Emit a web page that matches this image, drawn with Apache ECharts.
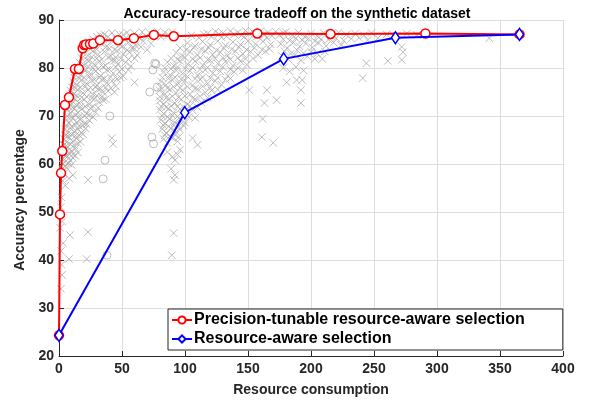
<!DOCTYPE html>
<html>
<head>
<meta charset="utf-8">
<script src="https://cdn.jsdelivr.net/npm/echarts@6/dist/echarts.min.js"></script>
<style>
  html, body { margin: 0; padding: 0; background: #fff; }
  #chart { width: 594px; height: 405px; }
</style>
</head>
<body>
<div id="chart"></div>
<script>
// precision-tunable resource-aware selection (red)
const precisionTunable = [
  [0, 24.3], [0.8, 49.5], [1.6, 58.1], [2.6, 62.7], [4.75, 72.3], [7.9, 73.9],
  [12.7, 79.8], [15.8, 79.8], [18.8, 84.1], [20, 84.8], [21.4, 84.9], [24.6, 85],
  [27.2, 85.1], [32.5, 85.8], [46.8, 85.8], [59.4, 86.2], [75.3, 86.9], [91.1, 86.6],
  [157.4, 87.2], [215.5, 87.1], [290.8, 87.2], [365.5, 87.0]
];

// resource-aware selection (blue)
const resourceAware = [
  [0, 24.3], [99.8, 70.7], [178.3, 81.9], [267, 86.3], [365.5, 87.0]
];

// gray cloud of other configurations (crosses)
const otherCross = [
  // left band
  [30, 86.5], [36, 87], [42, 87.3], [48, 87], [54, 87.4], [60, 87.2], [66, 87.5], [72, 87.3], [78, 87.6], [84, 87.4], [90, 87.5], [45, 86.2], [57, 86.4], [69, 86.6],
  [27, 86], [33, 86.8], [39, 86.5], [51, 86.9], [63, 86.4], [75, 86.8], [81, 86.5], [87, 86.9],
  [24, 85.4], [28, 84.8], [33, 85.2], [38, 84.6], [43, 85.5], [49, 84.9], [55, 85.3], [61, 84.7], [67, 85.6], [73, 85.1], [35, 86], [52, 86],
  [22, 84.5], [30, 83.9], [37, 84.3], [44, 83.8], [50, 84.4], [54, 83.7], [60, 84], [65, 84.4], [70, 83.8],
  [19, 83.2], [23, 82.6], [27, 83.5], [31, 82.8], [36, 83.4], [41, 82.5], [46, 83.6], [51, 82.9], [56, 83.3], [62, 82.7], [25, 84], [40, 84], [58, 84.2],
  [18, 82], [22, 81.7], [26, 82.3], [34, 81.8], [39, 82.2], [44, 81.5], [49, 82], [55, 81.8], [60, 82],
  [16, 81.2], [20, 80.6], [24, 81.5], [28, 80.8], [32, 81.4], [37, 80.5], [42, 81.6], [47, 80.9], [53, 81.2], [57, 80.4], [30, 82], [45, 82.2],
  [15, 80], [19, 79.8], [23, 80.3], [31, 79.8], [35, 80.2], [40, 79.7], [45, 80.2], [50, 79.8], [55, 79.6],
  [14, 79.2], [17, 78.5], [21, 79.5], [25, 78.8], [29, 79.3], [33, 78.4], [38, 79.6], [43, 78.9], [48, 79.2], [51, 78.3], [27, 80],
  [12, 78], [16, 77.8], [24, 78.2], [28, 77.6], [32, 78], [36, 77.8], [41, 78.1], [46, 77.7], [49, 78],
  [11, 77.2], [14, 76.5], [18, 77.5], [22, 76.8], [26, 77.4], [30, 76.4], [34, 77.6], [38, 76.9], [42, 77.3], [45, 76.2], [20, 78],
  [10, 76], [13, 75.8], [21, 76.2], [25, 75.9], [29, 76], [33, 75.7], [37, 76], [41, 75.8], [44, 75],
  [9, 75.3], [12, 74.6], [15, 75.5], [19, 74.8], [23, 75.4], [27, 74.5], [31, 75.6], [35, 74.9], [39, 75.2], [17, 76],
  [9, 74], [11, 73.8], [14, 74.2], [18, 73.9], [22, 74], [26, 73.7], [30, 74.2], [34, 74], [37, 73.5],
  [8, 73.2], [10, 72.5], [13, 73.5], [16, 72.7], [20, 73.4], [24, 72.4], [28, 73.6], [32, 72.9], [35, 73.3],
  [7.5, 72], [11, 71.8], [14, 72.2], [17, 71.9], [21, 72], [27, 72], [31, 71.7],
  [7, 71.3], [9, 70.5], [12, 71.5], [15, 70.7], [18, 71.4], [22, 70.4], [25, 71.6], [29, 70.8],
  [6.5, 70], [10, 69.8], [13, 70.2], [16, 69.9], [20, 70.1], [24, 70.2], [27, 69.8],
  [6, 69.2], [8, 68.5], [11, 69.5], [14, 68.7], [17, 69.3], [20, 68.4], [24, 69.1],
  [5.5, 68], [10, 67.8], [13, 68.1], [16, 67.9], [19, 68], [22, 68.3],
  [5, 67.3], [7, 66.4], [9, 67.5], [12, 66.7], [15, 67.2], [18, 66.5], [21, 67.4],
  [5, 66], [7, 65.8], [10, 66.1], [13, 65.9], [16, 66], [19, 66.2],
  [4, 65.2], [6, 64.5], [8, 65.5], [11, 64.7], [14, 65.3], [17, 64.6],
  [4, 64], [6, 63.8], [9, 64.1], [12, 63.9], [15, 64.3],
  [3.5, 63.2], [5, 62.4], [7, 63.5], [10, 62.7], [13, 63.2], [15, 62.4],
  [3.5, 62], [6, 61.8], [8, 62.2], [11, 62], [13, 61.7],
  [3, 61.2], [4.5, 60.4], [6.5, 61.5], [9, 60.7], [11, 61.3],
  [3, 60], [5, 59.6], [7.5, 60.1], [10, 59.8],
  [2.5, 59], [4, 58], [6, 59.2], [3, 56.5], [5, 55.5], [8, 57], [11, 57.7], [23, 56.7],
  [2, 53], [1.5, 51], [2.5, 48], [0.8, 46.7], [8.7, 45.2], [23, 45.8], [3.2, 43.5], [1.6, 41.9], [8, 40.2], [22, 40.2], [2.4, 36.9], [1.5, 34], [2, 39],
  [60, 77], [42, 65.4], [43, 64.2],
  // middle cluster
  [118, 87.2], [124, 87.6], [130, 87.3], [136, 87.7], [142, 87.4], [148, 87.8], [154, 87.5], [160, 87.7], [166, 87.4], [172, 87.6], [178, 87.3],
  [105, 86.8], [115, 87], [121, 86.5], [127, 87.1], [133, 86.6], [139, 87], [145, 86.8], [151, 87.1], [157, 86.6], [163, 87], [169, 86.7], [175, 86.9],
  [102, 85.2], [108, 84.6], [114, 85.5], [120, 84.8], [126, 85.6], [132, 84.7], [138, 85.4], [144, 84.9], [150, 85.6], [156, 85], [162, 85.5], [168, 84.9], [111, 86.3], [129, 86.4], [147, 86.5], [165, 86.3],
  [96, 84.2], [101, 83.8], [107, 84.3], [113, 83.9], [119, 84.2], [125, 83.7], [131, 84.1], [137, 83.9], [143, 84.3], [149, 83.8], [155, 84.2], [161, 83.8], [167, 84],
  [93, 83.2], [98, 82.5], [104, 83.4], [110, 82.7], [116, 83.6], [122, 82.8], [128, 83.3], [134, 82.6], [140, 83.5], [146, 82.9], [152, 83.4], [158, 82.7], [164, 83.5],
  [89, 82], [94, 81.8], [100, 82.2], [106, 81.9], [112, 82.1], [118, 81.7], [124, 82], [130, 82.1], [136, 81.8], [142, 82.1], [148, 81.9], [154, 82],
  [86, 81.2], [91, 80.5], [96, 81.5], [102, 80.8], [108, 81.4], [114, 80.6], [120, 81.6], [126, 80.9], [132, 81.3], [138, 80.5], [144, 81.4], [149, 80.7],
  [84, 80], [89, 79.8], [94, 80.2], [100, 79.9], [106, 80.1], [112, 79.7], [118, 80.1], [124, 79.9], [130, 80.2], [136, 79.7], [142, 80], [146, 79.5],
  [83, 79.2], [88, 78.5], [93, 79.5], [98, 78.8], [104, 79.4], [110, 78.5], [116, 79.6], [122, 78.9], [128, 79.3], [134, 78.4], [139, 79.2],
  [82, 78], [87, 77.8], [92, 78.1], [97, 77.7], [102, 78.2], [108, 77.8], [114, 78.1], [120, 77.9], [126, 78], [132, 77.6], [136, 77.8],
  [81, 77.2], [85, 76.5], [90, 77.5], [95, 76.8], [100, 77.4], [106, 76.4], [112, 77.6], [118, 76.8], [124, 77.3], [129, 76.5],
  [80.5, 76], [86, 75.8], [91, 76.1], [96, 75.9], [102, 76.1], [108, 75.7], [114, 76.2], [120, 75.9], [126, 75.5],
  [80, 75.3], [84, 74.6], [88, 75.5], [93, 74.8], [98, 75.4], [104, 74.5], [110, 75.6], [116, 74.9], [121, 75.3],
  [80, 74], [85, 73.8], [90, 74.1], [95, 73.9], [100, 74.2], [106, 73.7], [112, 74.1], [118, 73.8],
  [80, 73.2], [83, 72.5], [87, 73.5], [92, 72.7], [97, 73.4], [102, 72.4], [108, 73.5], [113, 72.8],
  [81, 72], [85, 71.8], [89, 72.1], [94, 72], [99, 71.8], [104, 72.1], [110, 71.8],
  [80, 71.3], [83, 70.5], [87, 71.5], [91, 70.7], [96, 71.4], [101, 70.4], [106, 71.2],
  [82, 70], [86, 69.8], [90, 70.1], [94, 69.9], [98, 70.2], [103, 69.8],
  [81, 69.2], [84, 68.5], [88, 69.4], [92, 68.7], [96, 69.3], [100, 68.6],
  [83, 68], [87, 67.8], [91, 68.1], [95, 67.9], [99, 68],
  [82, 67.3], [85, 66.5], [89, 67.4], [93, 66.7], [96, 67.2],
  [84, 66], [88, 65.8], [92, 66.1], [95, 65.6],
  [83, 65.2], [86, 64.4], [90, 65.4], [94, 64.7],
  [86, 62.5], [90, 61.5], [92, 60.8], [94, 62], [92, 57.7], [89, 59], [91, 56.7], [91, 45.6], [89.5, 41], [96, 63], [106, 65.4], [110, 64], [108, 69.6],
  // right side
  [180, 87.5], [185, 86.8], [190, 87.4], [195, 86.5], [200, 87.2], [205, 86.6], [210, 87.3], [216, 86.7], [222, 87.4], [228, 86.9], [235, 87.2], [242, 86.8], [248, 87.3], [253, 86.2], [260, 87], [268, 86.7], [276, 87.2], [284, 86.9], [341.5, 86.2],
  [178, 86], [183, 85.7], [188, 86.2], [193, 85.8], [198, 86.1], [203, 85.6], [208, 86], [214, 85.9], [220, 86.2], [226, 85.7], [232, 86.1], [238, 86.3], [245, 85.8],
  [176, 85], [181, 84.2], [186, 85.3], [191, 84.5], [196, 85.1], [201, 84.3], [206, 85.2], [212, 84.6], [218, 85.3], [224, 84.8],
  [179, 83.5], [184, 83], [189, 83.7], [194, 83.1], [200, 83.4], [205, 83], [211, 83.4],
  [177, 82.5], [182, 81.8], [187, 82.7], [192, 81.6], [197, 82.4], [203, 81.9], [209, 81.9],
  [178, 80], [183, 79.3], [188, 80.2], [194, 79.5], [180.7, 77], [188.6, 77.5], [193, 77.5], [192, 75.4], [192, 72.7],
  [241, 77.9], [244, 81], [261, 81.5], [272, 81.7], [273, 83.3], [272, 84.4],
  [151, 75.4], [165, 75.4], [163, 72.7], [172.7, 73.3], [161.6, 69.4], [161, 65.6], [170, 64.4]
];

// gray circles
const otherCircle = [
  [40.4, 70], [36.5, 60.8], [35, 56.9], [38, 41], [74.5, 79.6], [76, 81], [72, 75],
  [73.7, 65.6], [75, 64.2], [77, 80.8], [78, 76]
];

const xTicks = { min: 0, max: 400, interval: 50 };
const yTicks = { min: 20, max: 90, interval: 10 };

const chart = echarts.init(document.getElementById('chart'));
const font = 'Liberation Sans, Arial, sans-serif';
const axisColor = '#262626';

chart.setOption({
  backgroundColor: '#fff',
  animation: false,
  title: {
    text: 'Accuracy-resource tradeoff on the synthetic dataset',
    left: 'center',
    top: 2,
    textStyle: { fontFamily: font, fontSize: 14, fontWeight: 'bold', color: '#000' }
  },
  legend: {
    data: ['Precision-tunable resource-aware selection', 'Resource-aware selection'],
    orient: 'vertical',
    left: 168,
    top: 309,
    itemGap: 3,
    itemWidth: 20,
    itemHeight: 9,
    padding: [3, 38, 3, 3],
    backgroundColor: '#fff',
    borderColor: axisColor,
    borderWidth: 1,
    borderRadius: 0,
    textStyle: { fontFamily: font, fontSize: 16, fontWeight: 'bold', color: '#000', padding: [0, 0, 0, -3] }
  },
  grid: { left: 59, right: 31, top: 20, bottom: 49 },
  xAxis: {
    type: 'value',
    min: xTicks.min, max: xTicks.max, interval: xTicks.interval,
    name: 'Resource consumption',
    nameLocation: 'middle',
    nameGap: 27,
    nameTextStyle: { fontFamily: font, fontSize: 14, fontWeight: 'bold', color: axisColor },
    axisLine: { onZero: false, lineStyle: { color: axisColor, width: 1 } },
    axisTick: { inside: true, length: 5, lineStyle: { color: axisColor } },
    axisLabel: { fontFamily: font, fontSize: 14, fontWeight: 'bold', color: axisColor, margin: 6 },
    splitLine: { show: true, lineStyle: { color: '#dedede', width: 1 } }
  },
  yAxis: {
    type: 'value',
    min: yTicks.min, max: yTicks.max, interval: yTicks.interval,
    name: 'Accuracy percentage',
    nameLocation: 'middle',
    nameGap: 28,
    nameTextStyle: { fontFamily: font, fontSize: 14, fontWeight: 'bold', color: axisColor, padding: [0, 24, 0, 0] },
    axisLine: { onZero: false, lineStyle: { color: axisColor, width: 1 } },
    axisTick: { inside: true, length: 5, lineStyle: { color: axisColor } },
    axisLabel: { fontFamily: font, fontSize: 14, fontWeight: 'bold', color: axisColor, margin: 5 },
    splitLine: { show: true, lineStyle: { color: '#dedede', width: 1 } }
  },
  series: [
    {
      name: 'others-x',
      type: 'scatter',
      data: otherCross,
      symbol: 'path://M0,0L10,10M10,0L0,10',
      symbolSize: 7.5,
      silent: true,
      itemStyle: { color: 'none', borderColor: '#ababab', borderWidth: 1 }
    },
    {
      name: 'others-o',
      type: 'scatter',
      data: otherCircle,
      symbol: 'circle',
      symbolSize: 8,
      silent: true,
      itemStyle: { color: 'none', borderColor: '#ababab', borderWidth: 1 }
    },
    {
      name: 'Precision-tunable resource-aware selection',
      type: 'line',
      data: precisionTunable,
      symbol: 'circle',
      symbolSize: 9,
      showAllSymbol: true,
      lineStyle: { color: '#ff0000', width: 2 },
      itemStyle: { color: '#fff', borderColor: '#ff0000', borderWidth: 1.5 },
      z: 3
    },
    {
      name: 'Resource-aware selection',
      type: 'line',
      data: resourceAware,
      symbol: 'diamond',
      symbolSize: [8, 12],
      showAllSymbol: true,
      lineStyle: { color: '#0000ff', width: 2 },
      itemStyle: { color: '#fff', borderColor: '#0000ff', borderWidth: 1.5 },
      z: 4
    }
  ]
});
</script>
</body>
</html>
